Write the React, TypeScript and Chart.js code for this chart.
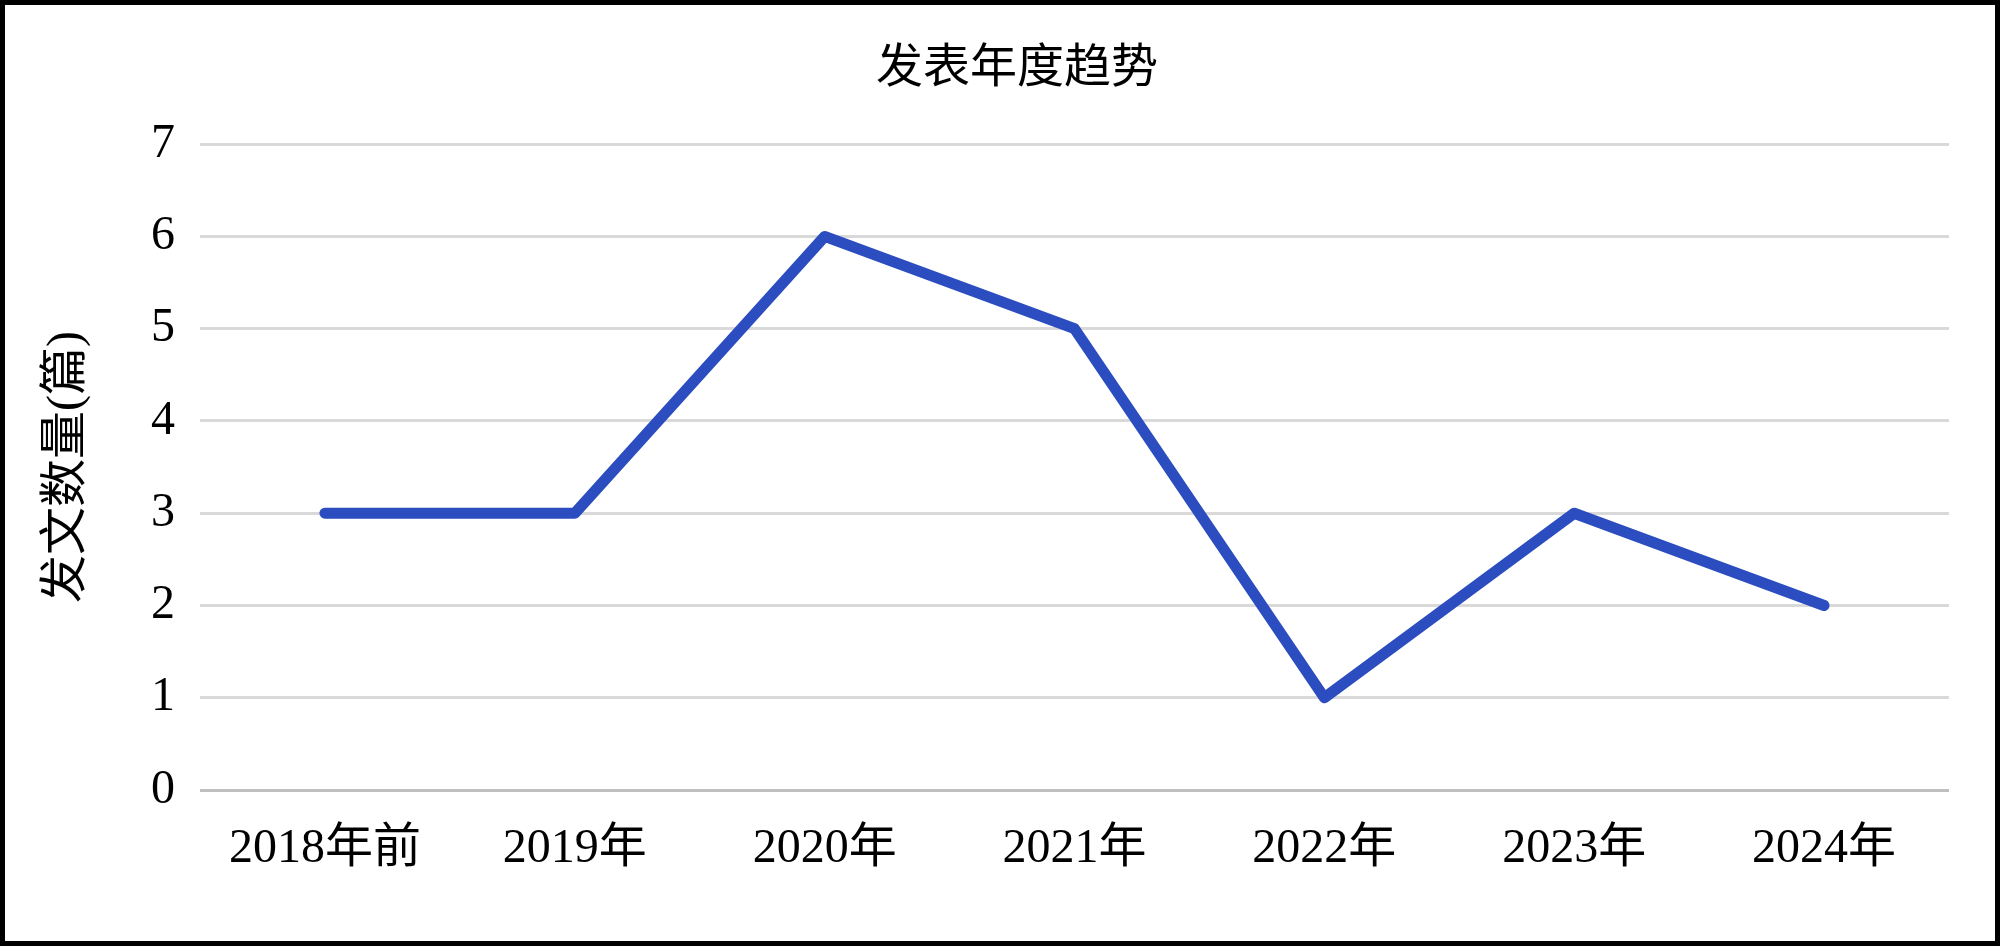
import React, { useEffect, useRef } from "react";
import { Chart, registerables } from "chart.js";

Chart.register(...registerables);

const chartTitle = "发表年度趋势";
const yAxisTitle = "发文数量(篇)";
const categories = ["2018年前", "2019年", "2020年", "2021年", "2022年", "2023年", "2024年"];
const counts = [3, 3, 6, 5, 1, 3, 2];
const yMin = 0;
const yMax = 7;

const FONT = '"Liberation Serif", "Noto Sans CJK SC", serif';

export default function App() {
  const ref = useRef<HTMLCanvasElement | null>(null);

  useEffect(() => {
    document.body.style.margin = "0";
    const canvas = ref.current;
    if (!canvas) return;
    const chart = new Chart(canvas, {
      type: "line",
      data: {
        labels: categories,
        datasets: [
          {
            data: counts,
            borderColor: "#2B4DBF",
            backgroundColor: "#2B4DBF",
            borderWidth: 11,
            borderCapStyle: "round",
            borderJoinStyle: "round",
            pointRadius: 0,
            tension: 0,
            fill: false,
          },
        ],
      },
      options: {
        animation: false,
        responsive: false,
        maintainAspectRatio: false,
        layout: { padding: { left: 80, right: 46, top: 0, bottom: 0 } },
        plugins: {
          legend: { display: false },
          tooltip: { enabled: false },
          title: {
            display: true,
            text: chartTitle,
            color: "#000",
            font: { family: FONT, size: 47, weight: "normal", lineHeight: 1.2 },
            padding: { top: 36, bottom: 46.8 },
          },
        },
        scales: {
          x: {
            type: "category",
            offset: true,
            grid: { display: false, drawTicks: false },
            border: { display: false },
            ticks: {
              color: "#000",
              padding: 31,
              maxRotation: 0,
              autoSkip: false,
              font: { family: FONT, size: 48, lineHeight: 1.2 },
            },
            afterFit: (s: any) => {
              s.height = 151;
            },
          },
          y: {
            min: yMin,
            max: yMax,
            grid: {
              drawTicks: false,
              lineWidth: 3,
              color: (ctx: any) => (ctx.tick && ctx.tick.value === 0 ? "#BFBFBF" : "#D9D9D9"),
            },
            border: { display: false },
            ticks: {
              stepSize: 1,
              color: "#000",
              padding: 25,
              font: { family: FONT, size: 48, lineHeight: 1.2 },
            },
            title: {
              display: true,
              text: yAxisTitle,
              color: "#000",
              font: { family: FONT, size: 48, lineHeight: 1.2 },
              padding: { top: -46, bottom: 0 },
            },
            afterFit: (s: any) => {
              s.width = 115;
            },
          },
        },
      },
    });
    return () => chart.destroy();
  }, []);

  return (
    <div
      style={{
        width: 2000,
        height: 946,
        boxSizing: "border-box",
        border: "5px solid #000",
        background: "#fff",
        overflow: "hidden",
      }}
    >
      <canvas ref={ref} width={1990} height={936} style={{ display: "block" }} />
    </div>
  );
}
